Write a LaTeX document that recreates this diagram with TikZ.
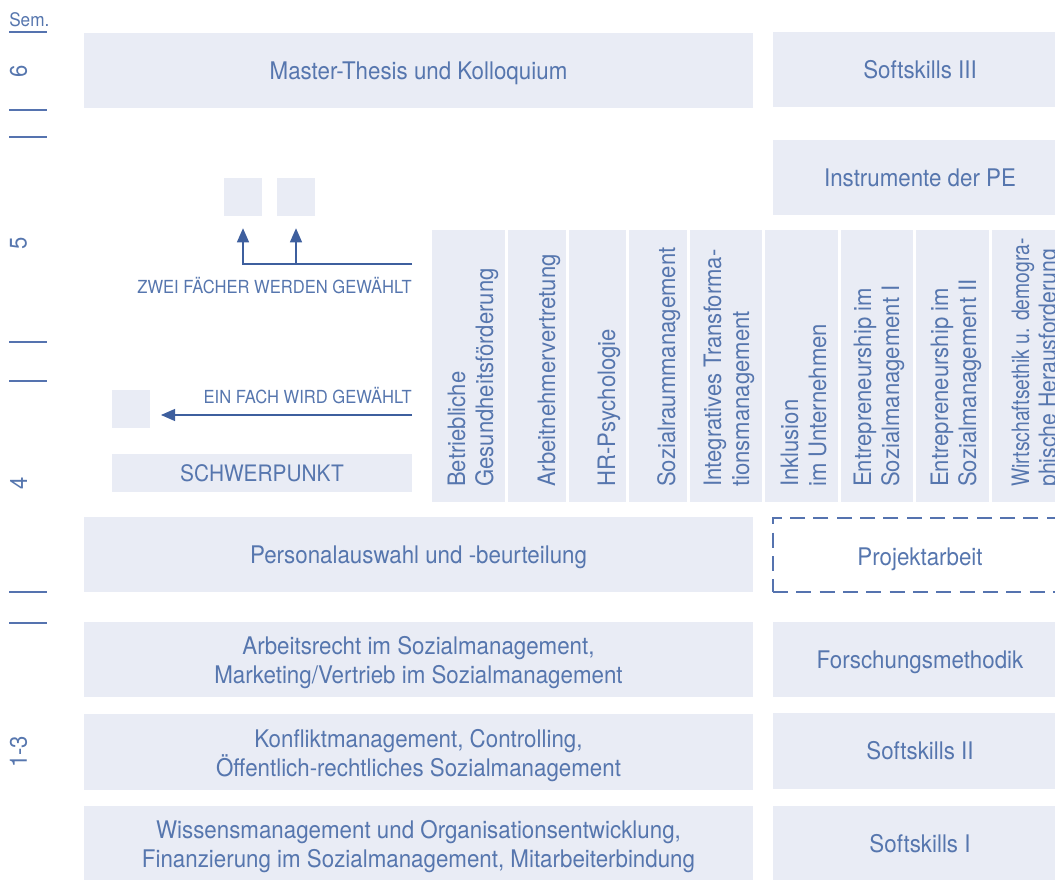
\documentclass[tikz,border=0pt]{standalone}
\usepackage{fontspec}
\setmainfont{TeX Gyre Heros}[FakeStretch=0.92]
\usetikzlibrary{arrows.meta}
\definecolor{boxfill}{RGB}{233,236,245}
\definecolor{txt}{RGB}{86,118,174}
\definecolor{markc}{RGB}{85,115,175}
\definecolor{arr}{RGB}{62,95,158}
\newcommand\fsz[2]{\fontsize{#1}{#2}\selectfont}
% box with one centred line (capitals centred in the box)
\newcommand\mkbox[7][]{%
  \node[box={#5}{#6}] (#2) at (#3,#4) {};
  \node[btext,#1] (#2-t) at (#2.center) {#7};}
% box with two lines, placed by their baselines
\newcommand\mkboxii[6]{%
  \node[box={#4}{#5}] (#1) at (#2,#3) {};
  \node[bline] (#1-a) at ([yshift=3.75pt]#1.center) {#6};
  \node[bline] (#1-b) at ([yshift=-18pt]#1.center) {\mkboxsecond};}
\begin{document}
\begin{tikzpicture}[x=0.75pt,y=-0.75pt,
  box/.style 2 args={fill=boxfill,draw=none,inner sep=0pt,
    minimum width=#1*0.75pt,minimum height=#2*0.75pt},
  btext/.style={inner sep=0pt,text=txt,font=\fsz{18.2}{21.75},text height=13.1pt,text depth=0pt},
  bline/.style={inner sep=0pt,text=txt,font=\fsz{18.2}{21.75},anchor=base},
  vtext/.style={rotate=90,anchor=base west,inner sep=0pt,text=txt,font=\fsz{18}{21}},
  semnum/.style={rotate=90,inner sep=0pt,text=txt,font=\fsz{18}{21}},
  lbl/.style={anchor=base east,inner sep=0pt,text=txt,font=\fsz{13.5}{16}},
  markline/.style={draw=markc,line width=1pt},
  arrline/.style={draw=arr,line width=0.9pt},
  tip/.style={-{Triangle[length=10.5pt,width=9pt]}},
  dashbox/.style={draw=markc,line width=0.9pt,dash pattern=on 11.25pt off 6.25pt}
]
\useasboundingbox (0,0) rectangle (1055,880);
\clip (0,0) rectangle (1055,880);

% semester scale
\node[anchor=base west,inner sep=0pt,text=txt,font=\fsz{14}{16}] (sem) at (9,27) {Sem.};
\draw[markline] (9,32) -- (47,32);
\draw[markline] (9,110) -- (47,110);
\draw[markline] (9,137) -- (47,137);
\draw[markline] (9,342) -- (47,342);
\draw[markline] (9,381) -- (47,381);
\draw[markline] (9,592) -- (47,592);
\draw[markline] (9,623) -- (47,623);
\node[semnum] (s6) at (18.5,71) {6};
\node[semnum] (s5) at (18.5,243) {5};
\node[semnum] (s4) at (18.5,483) {4};
\node[semnum] (s13) at (18.5,752) {1-3};

% semester 6
\mkbox{master}{418.5}{70.5}{669}{75}{Master-Thesis und Kolloquium}
\mkbox{soft3}{920}{70}{294}{75}{Softskills III}

% semester 5 / 4
\mkbox{instr}{920}{177.5}{294}{75}{Instrumente der PE}

\node[box={73}{272}] (c1) at (468.5,366) {};
\node[box={57.5}{272}] (c2) at (536.75,366) {};
\node[box={57.5}{272}] (c3) at (597.25,366) {};
\node[box={58}{272}] (c4) at (658,366) {};
\node[box={72}{272}] (c5) at (726,366) {};
\node[box={73}{272}] (c6) at (801.5,366) {};
\node[box={72}{272}] (c7) at (877,366) {};
\node[box={73}{272}] (c8) at (952.5,366) {};
\node[box={75}{272}] (c9) at (1029.5,366) {};

\node[vtext] (t1a) at (465,487) {Betriebliche};
\node[vtext] (t1b) at (493,487) {Gesundheitsförderung};
\node[vtext] (t2) at (555,487) {Arbeitnehmervertretung};
\node[vtext] (t3) at (615,487) {HR-Psychologie};
\node[vtext] (t4) at (675,487) {Sozialraummanagement};
\node[vtext] (t5a) at (721,487) {Integratives Transforma-};
\node[vtext] (t5b) at (749,487) {tionsmanagement};
\node[vtext] (t6a) at (798,487) {Inklusion};
\node[vtext] (t6b) at (826,487) {im Unternehmen};
\node[vtext] (t7a) at (871,487) {Entrepreneurship im};
\node[vtext] (t7b) at (899,487) {Sozialmanagement I};
\node[vtext] (t8a) at (948,487) {Entrepreneurship im};
\node[vtext] (t8b) at (976,487) {Sozialmanagement II};
\node[vtext] (t9a) at (1029,487) {\scalebox{0.875}[1]{Wirtschaftsethik u. demogra-}};
\node[vtext] (t9b) at (1056,487) {\scalebox{0.96}[1]{phische Herausforderung}};

\node[box={38}{38}] (z1) at (243,197) {};
\node[box={38}{38}] (z2) at (296,197) {};
\node[box={38}{38}] (e1) at (131,409) {};
\mkbox[font=\fsz{17}{20},text height=12.2pt]{schwer}{262}{473}{300}{38}{SCHWERPUNKT}

\node[lbl] (zwei) at (412,293) {ZWEI FÄCHER WERDEN GEWÄHLT};
\node[lbl] (ein) at (412,403) {EIN FACH WIRD GEWÄHLT};

\coordinate (j0) at (412,264);
\coordinate (j1) at (296,264);
\coordinate (k0) at (412,415);
\coordinate (k1) at (161,415);
\draw[arrline,tip] (j0) -| ([yshift=-9pt]z1.south);
\draw[arrline,tip] (j1) -- ([yshift=-9pt]z2.south);
\draw[arrline,tip] (k0) -- (k1);

% semester 1-3 / 4
\mkbox{pers}{418.5}{554.5}{669}{75}{Personalauswahl und -beurteilung}
\node[box={294}{74},fill=none,dashbox] (proj) at (920,555) {};
\node[btext] (proj-t) at ([yshift=-1pt]proj.center) {Projektarbeit};

\def\mkboxsecond{Marketing/Vertrieb im Sozialmanagement}
\mkboxii{arbr}{418.5}{659.5}{669}{75}{Arbeitsrecht im Sozialmanagement,}
\mkbox{forsch}{920}{659.5}{294}{75}{Forschungsmethodik}

\def\mkboxsecond{Öffentlich-rechtliches Sozialmanagement}
\mkboxii{konf}{418.5}{752}{669}{76}{Konfliktmanagement, Controlling,}
\mkbox{soft2}{920}{751}{294}{76}{Softskills II}

\def\mkboxsecond{Finanzierung im Sozialmanagement, Mitarbeiterbindung}
\mkboxii{wiss}{418.5}{843.5}{669}{75}{Wissensmanagement und Organisationsentwicklung,}
\mkbox{soft1}{920}{843.5}{294}{75}{Softskills I}
\end{tikzpicture}
\end{document}
